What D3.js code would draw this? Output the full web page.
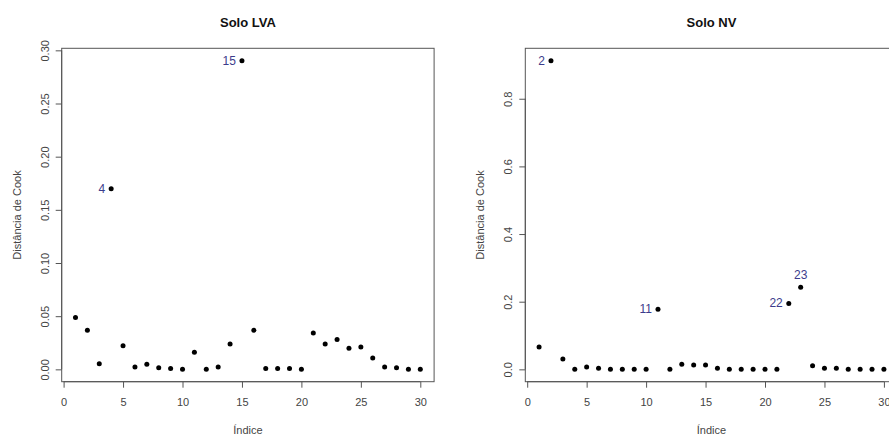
<!DOCTYPE html>
<html>
<head>
<meta charset="utf-8">
<script src="https://cdn.jsdelivr.net/npm/d3@7"></script>
<style>
  body { margin: 0; background: #fff; }
  svg { display: block; font-family: "Liberation Sans", Arial, sans-serif; }
</style>
</head>
<body>
<div id="chart"></div>
<script>
var indices = d3.range(1, 31);
var cookLVA = [0.0487, 0.0368, 0.0053, 0.1698, 0.0223, 0.0022, 0.0047, 0.0016, 0.0009, 0.0001,
               0.0160, 0.0000, 0.0022, 0.0239, 0.2903, 0.0368, 0.0009, 0.0009, 0.0009, 0.0001,
               0.0343, 0.0239, 0.0280, 0.0198, 0.0211, 0.0107, 0.0022, 0.0016, 0.0001, 0.0001];
var cookNV = [0.0663, 0.9126, 0.0307, 0.0000, 0.0070, 0.0030, 0.0000, 0.0000, 0.0000, 0.0000,
              0.1780, 0.0000, 0.0150, 0.0130, 0.0130, 0.0030, 0.0000, 0.0000, 0.0000, 0.0000,
              0.0000, 0.1950, 0.2426, 0.0110, 0.0030, 0.0030, 0.0000, 0.0000, 0.0000, 0.0000];
var xTicks = [0, 5, 10, 15, 20, 25, 30];
var yTicksLVA = [0, 0.05, 0.10, 0.15, 0.20, 0.25, 0.30];
var yTicksNV = [0, 0.2, 0.4, 0.6, 0.8];
// highlighted points: index and label position ("left" or "top")
var labelsLVA = [{i: 4, pos: "left"}, {i: 15, pos: "left"}];
var labelsNV = [{i: 2, pos: "left"}, {i: 11, pos: "left"}, {i: 22, pos: "left"}, {i: 23, pos: "top"}];

var w = 889, h = 435;
var svg = d3.select("#chart").append("svg")
    .attr("width", w)
    .attr("height", h);

var axisCol = "#555";
var textCol = "#444";
var labelCol = "#3c3c8c";

function panel(left, title, values, yTicks, yFmt, labels) {
    var box = {x0: left, x1: left + 372.4, y0: 48.3, y1: 381.7};

    // R style 4% padding on both axes
    var xPad = (30 - 1) * 0.04;
    var yMax = d3.max(values);
    var yPad = yMax * 0.04;
    var x = d3.scaleLinear().domain([1 - xPad, 30 + xPad]).range([box.x0, box.x1]);
    var y = d3.scaleLinear().domain([0 - yPad, yMax + yPad]).range([box.y1, box.y0]);

    var g = svg.append("g");

    g.append("rect")
        .attr("x", box.x0).attr("y", box.y0)
        .attr("width", box.x1 - box.x0).attr("height", box.y1 - box.y0)
        .attr("fill", "none").attr("stroke", axisCol).attr("stroke-width", 1);

    // x axis
    var xAxis = d3.axisBottom(x).tickValues(xTicks).tickSize(6).tickPadding(11);
    var gx = g.append("g").attr("transform", "translate(0," + box.y1 + ")").call(xAxis);
    gx.select(".domain").attr("d", "M" + x(0) + ",0H" + x(30)).attr("stroke", axisCol);
    gx.selectAll(".tick line").attr("stroke", axisCol);
    gx.selectAll(".tick text").attr("fill", textCol).attr("font-size", 11);

    // y axis, labels rotated like R
    var yAxis = d3.axisLeft(y).tickValues(yTicks).tickSize(6).tickFormat(yFmt);
    var gy = g.append("g").attr("transform", "translate(" + box.x0 + ",0)").call(yAxis);
    gy.select(".domain").attr("d", "M0," + y(yTicks[0]) + "V" + y(yTicks[yTicks.length - 1])).attr("stroke", axisCol);
    gy.selectAll(".tick line").attr("stroke", axisCol);
    gy.selectAll(".tick text")
        .attr("fill", textCol).attr("font-size", 11)
        .attr("x", null).attr("dy", null)
        .attr("text-anchor", "middle")
        .attr("transform", "translate(-13,0) rotate(-90)");

    g.append("text")
        .attr("x", (box.x0 + box.x1) / 2).attr("y", 27)
        .attr("text-anchor", "middle")
        .attr("font-size", 13).attr("font-weight", "bold")
        .attr("fill", "#111")
        .text(title);

    g.append("text")
        .attr("x", (box.x0 + box.x1) / 2).attr("y", 434)
        .attr("text-anchor", "middle")
        .attr("font-size", 11).attr("fill", textCol)
        .text("Índice");

    g.append("text")
        .attr("transform", "translate(" + (box.x0 - 41) + "," + ((box.y0 + box.y1) / 2) + ") rotate(-90)")
        .attr("text-anchor", "middle")
        .attr("font-size", 11).attr("fill", textCol)
        .text("Distância de Cook");

    g.selectAll("circle")
        .data(values)
        .enter()
        .append("circle")
        .attr("cx", function (d, i) { return x(indices[i]); })
        .attr("cy", function (d) { return y(d); })
        .attr("r", 2.5)
        .attr("fill", "#000");

    g.selectAll(".lab")
        .data(labels)
        .enter()
        .append("text")
        .attr("class", "lab")
        .attr("x", function (d) { return d.pos == "left" ? x(d.i) - 6 : x(d.i); })
        .attr("y", function (d) { return d.pos == "left" ? y(values[d.i - 1]) + 4 : y(values[d.i - 1]) - 8; })
        .attr("text-anchor", function (d) { return d.pos == "left" ? "end" : "middle"; })
        .attr("font-size", 12)
        .attr("fill", labelCol)
        .text(function (d) { return d.i; });
}

panel(61.7, "Solo LVA", cookLVA, yTicksLVA, d3.format(".2f"), labelsLVA);
panel(525.3, "Solo NV", cookNV, yTicksNV, d3.format(".1f"), labelsNV);
</script>
</body>
</html>
